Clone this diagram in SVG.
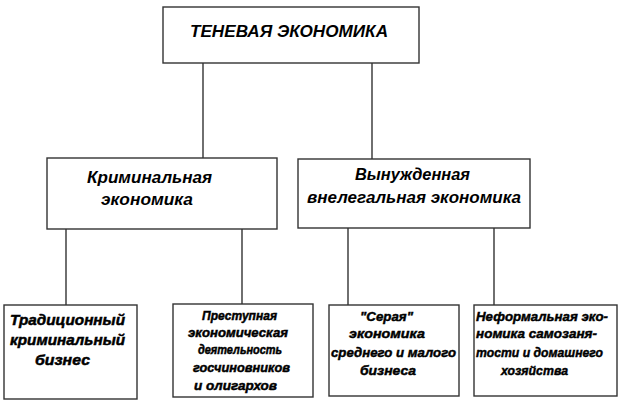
<svg xmlns="http://www.w3.org/2000/svg" width="623" height="412" viewBox="0 0 623 412">
<style>
rect{fill:#fff;stroke:#333;stroke-width:1.4}
.c line{stroke:#333;stroke-width:1.4}
text{font-family:"Liberation Sans",Arial,sans-serif;font-weight:bold;font-style:italic;fill:#000}
.t1{font-size:16px}
.t2{font-size:16px}
.t3{font-size:15px;stroke:#000;stroke-width:0.5}
.t4{font-size:12px;stroke:#000;stroke-width:0.45}
.t5{font-size:13px;stroke:#000;stroke-width:0.45}
</style>
<rect x="0" y="0" width="623" height="412" style="stroke:none"/>
<g class="c" id="connectors">
<line x1="203" y1="63" x2="203" y2="158"/>
<line x1="372" y1="63" x2="372" y2="159"/>
<line x1="66" y1="229" x2="66" y2="305"/>
<line x1="242" y1="229" x2="242" y2="304"/>
<line x1="348" y1="228" x2="348" y2="305"/>
<line x1="494" y1="228" x2="494" y2="305"/>
</g>
<g id="n-top">
<rect x="163" y="7" width="256" height="56"/>
<text class="t1" x="190" y="37" textLength="198" lengthAdjust="spacingAndGlyphs">ТЕНЕВАЯ ЭКОНОМИКА</text>
</g>
<g id="n-crim">
<rect x="47" y="158" width="230" height="71"/>
<text class="t2" x="87" y="183" textLength="125" lengthAdjust="spacingAndGlyphs">Криминальная</text>
<text class="t2" x="101" y="205" textLength="92" lengthAdjust="spacingAndGlyphs">экономика</text>
</g>
<g id="n-forced">
<rect x="298" y="159" width="232" height="69"/>
<text class="t2" x="355" y="180" textLength="115" lengthAdjust="spacingAndGlyphs">Вынужденная</text>
<text class="t2" x="307" y="203" textLength="214" lengthAdjust="spacingAndGlyphs">внелегальная экономика</text>
</g>
<g id="n-trad">
<rect x="4" y="305" width="133" height="94"/>
<text class="t3" x="10" y="325" textLength="115" lengthAdjust="spacingAndGlyphs">Традиционный</text>
<text class="t3" x="10" y="345" textLength="115" lengthAdjust="spacingAndGlyphs">криминальный</text>
<text class="t3" x="35" y="365" textLength="55" lengthAdjust="spacingAndGlyphs">бизнес</text>
</g>
<g id="n-state">
<rect x="173" y="304" width="140" height="93"/>
<text class="t4" x="202" y="320" textLength="75" lengthAdjust="spacingAndGlyphs">Преступная</text>
<text class="t4" x="188" y="337" textLength="100" lengthAdjust="spacingAndGlyphs">экономическая</text>
<text class="t4" x="198" y="354" textLength="84" lengthAdjust="spacingAndGlyphs">деятельность</text>
<text class="t4" x="193" y="372" textLength="97" lengthAdjust="spacingAndGlyphs">госчиновников</text>
<text class="t4" x="194" y="390" textLength="83" lengthAdjust="spacingAndGlyphs">и олигархов</text>
</g>
<g id="n-grey">
<rect x="329" y="305" width="130" height="91"/>
<text class="t5" x="360" y="321" textLength="53" lengthAdjust="spacingAndGlyphs">"Серая"</text>
<text class="t5" x="349" y="338" textLength="76" lengthAdjust="spacingAndGlyphs">экономика</text>
<text class="t5" x="331" y="357" textLength="125" lengthAdjust="spacingAndGlyphs">среднего и малого</text>
<text class="t5" x="360" y="375" textLength="56" lengthAdjust="spacingAndGlyphs">бизнеса</text>
</g>
<g id="n-informal">
<rect x="474" y="305" width="143" height="91"/>
<text class="t5" x="476" y="321" textLength="132" lengthAdjust="spacingAndGlyphs">Неформальная эко-</text>
<text class="t5" x="476" y="338" textLength="121" lengthAdjust="spacingAndGlyphs">номика самозаня-</text>
<text class="t5" x="476" y="357" textLength="127" lengthAdjust="spacingAndGlyphs">тости и домашнего</text>
<text class="t5" x="501" y="375" textLength="67" lengthAdjust="spacingAndGlyphs">хозяйства</text>
</g>
</svg>
